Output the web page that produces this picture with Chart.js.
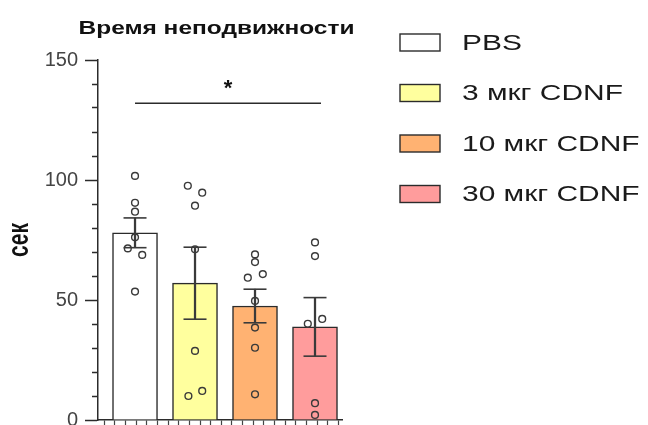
<!DOCTYPE html>
<html>
<head>
<meta charset="utf-8">
<script src="https://cdn.jsdelivr.net/npm/chart.js@4/dist/chart.umd.min.js"></script>
<style>
  html, body { margin: 0; padding: 0; background: #fff; }
  canvas { display: block; }
</style>
</head>
<body>
<canvas id="c" width="648" height="425"></canvas>
<script>
// Immobility time per group (seconds)
const groups = ['PBS', '3 мкг CDNF', '10 мкг CDNF', '30 мкг CDNF'];
const groupMeans = [78, 57, 47.5, 38.8];
const groupSems = [6.2, 15, 7, 12.2];
const pbsPoints = [101.7, 90.5, 86.8, 76.1, 71.5, 68.8, 53.5];
const cdnf3Points = [97.6, 94.7, 89.3, 71.1, 28.8, 10.0, 12.1];
const cdnf10Points = [69.0, 65.8, 59.3, 60.8, 49.6, 38.5, 30.1, 10.7];
const cdnf30Points = [74.0, 68.3, 40.1, 42.1, 7.0, 2.1];
const yTickLabels = [0, 50, 100, 150];
const yTitle = 'сек';
const heading = 'Время неподвижности';

// sideways spread of the dots inside each bar (category units)
const pbsSpread = [0, 0, 0, 0, -0.12, 0.12, 0];
const cdnf3Spread = [-0.12, 0.12, 0, 0, 0, -0.11, 0.12];
const cdnf10Spread = [0, 0, -0.12, 0.13, 0, 0, 0, 0];
const cdnf30Spread = [0, 0, -0.12, 0.12, 0, 0];

// significance bracket: from group 0 to just past group 3, with its value level
const bracket = { from: 0, to: 3.1, level: 132, mark: '*' };

const fills = ['#FFFFFF', '#FFFF9E', '#FFB272', '#FF9C9C'];
const ink = '#2b2b2b';
const FONT = '"Liberation Sans", Arial, Helvetica, sans-serif';
const WIDE = 1.36; // horizontal stretch of the heading, axis title and legend lettering

const pointSets = [pbsPoints, cdnf3Points, cdnf10Points, cdnf30Points];
const spreads = [pbsSpread, cdnf3Spread, cdnf10Spread, cdnf30Spread];

const dotDatasets = pointSets.map((vals, g) => ({
  type: 'scatter',
  order: 1,
  data: vals.map((v, k) => ({ x: g + spreads[g][k], y: v })),
  pointStyle: 'circle',
  pointRadius: 3.4,
  pointBorderWidth: 1.4,
  pointBorderColor: '#3a3a3a',
  pointBackgroundColor: 'rgba(0,0,0,0)'
}));

function wideText(ctx, text, x, y) {
  ctx.save();
  ctx.translate(x, y);
  ctx.scale(WIDE, 1);
  ctx.fillText(text, 0, 0);
  ctx.restore();
}

const annotations = {
  id: 'annotations',
  afterDatasetsDraw(chart) {
    const { ctx, chartArea, scales: { x, y } } = chart;
    ctx.save();
    // bracket line + asterisk
    const by = y.getPixelForValue(bracket.level);
    ctx.strokeStyle = ink;
    ctx.lineWidth = 1.5;
    ctx.beginPath();
    ctx.moveTo(x.getPixelForValue(bracket.from), by);
    ctx.lineTo(x.getPixelForValue(bracket.to), by);
    ctx.stroke();
    ctx.fillStyle = '#111';
    ctx.font = 'bold 22px ' + FONT;
    ctx.textAlign = 'center';
    ctx.textBaseline = 'middle';
    ctx.fillText(bracket.mark, x.getPixelForValue((bracket.from + bracket.to) / 2), by - 14);

    // heading
    ctx.font = 'bold 18px ' + FONT;
    wideText(ctx, heading, 216.5, 29);

    // y-axis title, rotated
    ctx.save();
    ctx.translate(20.5, (chartArea.top + chartArea.bottom) / 2);
    ctx.rotate(-Math.PI / 2);
    ctx.scale(1, WIDE);
    ctx.font = 'bold 21px ' + FONT;
    ctx.fillText(yTitle, 0, 0);
    ctx.restore();

    // legend
    ctx.textAlign = 'left';
    ctx.font = '22px ' + FONT;
    groups.forEach((name, i) => {
      const cy = 42.5 + i * 50.5;
      ctx.fillStyle = fills[i];
      ctx.fillRect(400, cy - 8.5, 40, 17);
      ctx.strokeStyle = ink;
      ctx.lineWidth = 1.4;
      ctx.strokeRect(400, cy - 8.5, 40, 17);
      ctx.fillStyle = '#1a1a1a';
      wideText(ctx, name, 462, cy + 1);
    });
    ctx.restore();
  }
};

new Chart(document.getElementById('c'), {
  type: 'bar',
  data: {
    datasets: [
      {
        type: 'bar',
        order: 4,
        grouped: false,
        data: groupMeans.map((m, g) => ({ x: g, y: m })),
        backgroundColor: fills,
        borderColor: ink,
        borderWidth: 1.5,
        barThickness: 45
      },
      {
        type: 'bar',
        order: 3,
        grouped: false,
        data: groupMeans.map((m, g) => ({ x: g, y: [m - groupSems[g], m + groupSems[g]] })),
        backgroundColor: '#3a3a3a',
        borderWidth: 0,
        barThickness: 1.6
      },
      {
        type: 'scatter',
        order: 2,
        data: groupMeans.flatMap((m, g) => [
          { x: g, y: m - groupSems[g] },
          { x: g, y: m + groupSems[g] }
        ]),
        pointStyle: 'line',
        pointRadius: 11.5,
        pointBorderWidth: 1.6,
        pointBorderColor: '#3a3a3a'
      },
      ...dotDatasets
    ]
  },
  options: {
    responsive: false,
    devicePixelRatio: 1,
    animation: false,
    events: [],
    layout: { autoPadding: false, padding: { left: 0, top: 60, right: 306, bottom: 0 } },
    plugins: {
      legend: { display: false },
      tooltip: { enabled: false },
      title: { display: false }
    },
    scales: {
      x: {
        type: 'linear',
        offset: false,
        min: -0.617,
        max: 3.45,
        afterBuildTicks(scale) {
          const first = scale.min + 0.017;
          scale.ticks = Array.from({ length: 23 }, (_, k) => ({ value: first + k * 0.1773 }));
        },
        afterFit(scale) {
          scale.height = 5;
          scale.paddingLeft = 0;
          scale.paddingRight = 0;
        },
        ticks: { display: false },
        grid: {
          display: true,
          drawOnChartArea: false,
          drawTicks: true,
          tickLength: 5,
          tickColor: '#444',
          tickWidth: 1.2
        },
        border: { display: true, color: ink, width: 1.5 }
      },
      y: {
        type: 'linear',
        min: 0,
        max: 150,
        afterBuildTicks(scale) {
          scale.ticks = Array.from({ length: 16 }, (_, k) => ({ value: k * 10 }));
        },
        afterFit(scale) {
          scale.width = 98;
          scale.paddingTop = 0;
          scale.paddingBottom = 0;
        },
        ticks: {
          autoSkip: false,
          padding: 7,
          color: '#444',
          font: { family: FONT, size: 20 },
          callback: (v) => (yTickLabels.includes(v) ? String(v) : '')
        },
        grid: {
          display: true,
          drawOnChartArea: false,
          drawTicks: true,
          tickLength: 13,
          tickColor: ink,
          tickWidth: 1.5,
          tickBorderDash: (c) => (yTickLabels.includes(c.tick.value) ? [] : [0, 7, 6, 100])
        },
        border: { display: true, color: ink, width: 1.5 },
        title: { display: false }
      }
    }
  },
  plugins: [annotations]
});
</script>
</body>
</html>
